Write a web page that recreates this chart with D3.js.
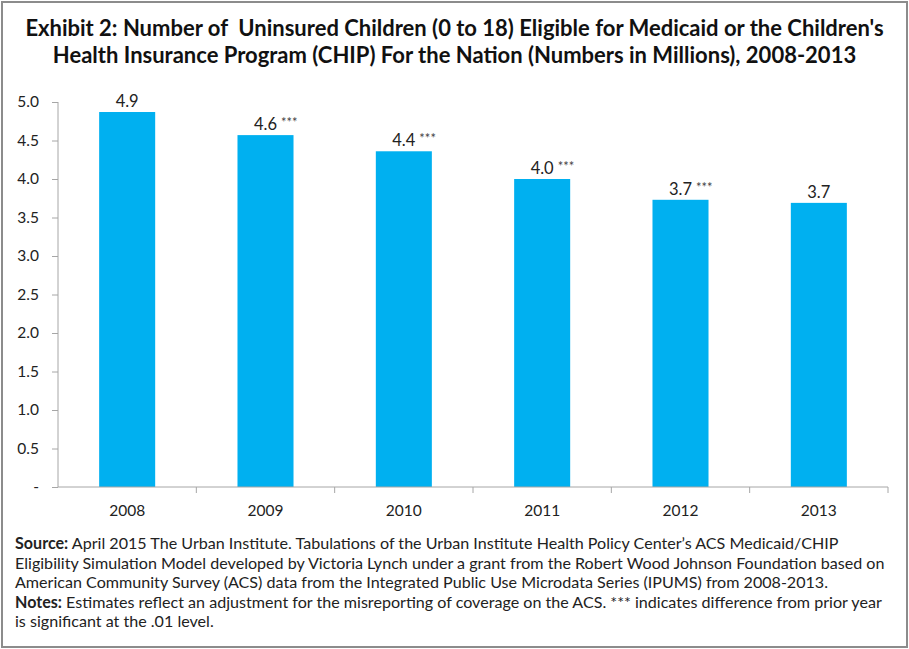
<!DOCTYPE html>
<html>
<head>
<meta charset="utf-8">
<script src="https://cdn.jsdelivr.net/npm/d3@7"></script>
<style>
  body { margin: 0; background: #fff; }
  text { font-family: Lato, "Open Sans", sans-serif; fill: #222; white-space: pre; }
</style>
</head>
<body>
<script>
// Chart data.
var years = ["2008", "2009", "2010", "2011", "2012", "2013"];
var uninsured = [4.87, 4.57, 4.36, 4.00, 3.73, 3.69];
var valueLabels = ["4.9", "4.6", "4.4", "4.0", "3.7", "3.7"];
var significant = [false, true, true, true, true, false];
var yTicks = [0, 0.5, 1, 1.5, 2, 2.5, 3, 3.5, 4, 4.5, 5];
var titleLines = ["Exhibit 2: Number of  Uninsured Children (0 to 18) Eligible for Medicaid or the Children's",
                  "Health Insurance Program (CHIP) For the Nation (Numbers in Millions), 2008-2013"];

var W = 909, H = 649;
var margin = {top: 102, right: 20, bottom: 162, left: 58};
var width = 888 - margin.left,
    height = 487 - margin.top;

var root = d3.select("body").append("svg")
    .attr("width", W)
    .attr("height", H);

// Outer frame
root.append("rect")
    .attr("x", 2).attr("y", 2)
    .attr("width", W - 4).attr("height", H - 4)
    .attr("fill", "none")
    .attr("stroke", "#8c8c8c")
    .attr("stroke-width", 2);

// Title
root.selectAll(".title")
    .data(titleLines)
    .enter()
    .append("text")
    .attr("class", "title")
    .attr("x", W / 2)
    .attr("y", function(d, i) { return 36 + i * 27; })
    .attr("text-anchor", "middle")
    .style("font-size", "22px")
    .style("font-weight", "bold")
    .style("fill", "#111")
    .text(function(d) { return d; });

var svg = root.append("g")
    .attr("transform", "translate(" + margin.left + "," + margin.top + ")");

var xScale = d3.scaleBand()
    .domain(years)
    .range([0, width]);

var yScale = d3.scaleLinear()
    .domain([0, 5])
    .range([height, 0]);

// Bars
var barW = xScale.bandwidth() * 0.405;
svg.selectAll("rect.bar")
    .data(uninsured)
    .enter()
    .append("rect")
    .attr("class", "bar")
    .attr("x", function(d, i) { return xScale(years[i]) + (xScale.bandwidth() - barW) / 2; })
    .attr("y", function(d) { return yScale(d); })
    .attr("width", barW)
    .attr("height", function(d) { return height - yScale(d); })
    .attr("fill", "#00b0f0");

// Value labels
var labels = svg.selectAll("text.val")
    .data(uninsured)
    .enter()
    .append("text")
    .attr("class", "val")
    .attr("x", function(d, i) { return xScale(years[i]) + xScale.bandwidth() / 2; })
    .attr("y", function(d) { return yScale(d) - 5; })
    .attr("text-anchor", "middle")
    .style("font-size", "16.5px");
labels.append("tspan")
    .text(function(d, i) { return valueLabels[i]; });
labels.append("tspan")
    .attr("dx", 4)
    .attr("dy", -3)
    .style("font-size", "13px")
    .style("fill", "#444")
    .text(function(d, i) { return significant[i] ? "***" : ""; });
// Keep the number centered on the bar
labels.filter(function(d, i) { return significant[i]; })
    .attr("text-anchor", "start")
    .attr("x", function(d) {
        var n = this.firstChild.getComputedTextLength();
        var idx = uninsured.indexOf(d);
        return xScale(years[idx]) + xScale.bandwidth() / 2 - n / 2;
    });

// Y axis
var yAxis = d3.axisLeft(yScale)
    .tickValues(yTicks)
    .tickSize(6)
    .tickPadding(13)
    .tickFormat(function(d) { return d === 0 ? "-" : d3.format(".1f")(d); });
var gy = svg.append("g").call(yAxis);
gy.select(".domain").attr("stroke", "#a6a6a6").attr("d", "M0," + height + "V0");
gy.selectAll(".tick line").attr("stroke", "#a6a6a6");
gy.selectAll(".tick text").style("font-size", "15.5px").style("fill", "#222");

// X axis
var gx = svg.append("g")
    .attr("transform", "translate(0," + height + ")");
gx.append("line")
    .attr("x1", 0).attr("x2", width)
    .attr("stroke", "#a6a6a6");
gx.selectAll("line.sep")
    .data(years)
    .enter()
    .append("line")
    .attr("class", "sep")
    .attr("x1", function(d) { return xScale(d) + xScale.bandwidth(); })
    .attr("x2", function(d) { return xScale(d) + xScale.bandwidth(); })
    .attr("y1", 0).attr("y2", 6)
    .attr("stroke", "#a6a6a6");
gx.selectAll("text")
    .data(years)
    .enter()
    .append("text")
    .attr("x", function(d) { return xScale(d) + xScale.bandwidth() / 2; })
    .attr("y", 29)
    .attr("text-anchor", "middle")
    .style("font-size", "15.5px")
    .text(function(d) { return d; });

// Footer notes
var notes = [
    [["Source:", true], [" April 2015 The Urban Institute. Tabulations of the Urban Institute Health Policy Center\u2019s ACS Medicaid/CHIP", false]],
    [["Eligibility Simulation Model developed by Victoria Lynch under a grant from the Robert Wood Johnson Foundation based on", false]],
    [["American Community Survey (ACS) data from the Integrated Public Use Microdata Series (IPUMS) from 2008-2013.", false]],
    [["Notes:", true], [" Estimates reflect an adjustment for the misreporting of coverage on the ACS. *** indicates difference from prior year", false]],
    [["is significant at the .01 level.", false]]
];
var foot = root.selectAll("text.note")
    .data(notes)
    .enter()
    .append("text")
    .attr("class", "note")
    .attr("x", 15)
    .attr("y", function(d, i) { return 549 + i * 19.6; })
    .style("font-size", "16.1px");
foot.selectAll("tspan")
    .data(function(d) { return d; })
    .enter()
    .append("tspan")
    .style("font-weight", function(d) { return d[1] ? "bold" : "normal"; })
    .text(function(d) { return d[0]; });
</script>
</body>
</html>
